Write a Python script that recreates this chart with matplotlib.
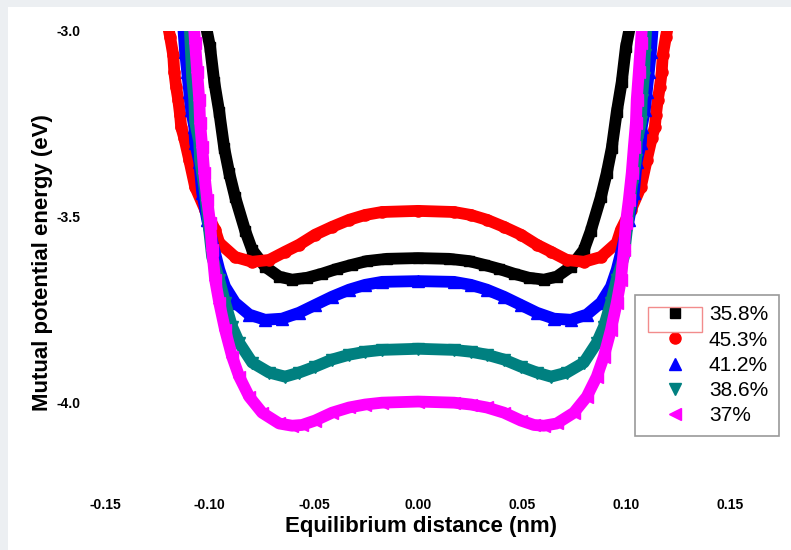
import matplotlib
matplotlib.use("Agg")
import matplotlib.pyplot as plt
from matplotlib.patches import Rectangle
import numpy as np

plt.rcParams['font.family'] = ['Liberation Sans', 'DejaVu Sans']
plt.rcParams['axes.unicode_minus'] = False

labels = ['35.8%', '45.3%', '41.2%', '38.6%', '37%']
colors = ['#000000', '#ff0000', '#0000ff', '#008080', '#ff00ff']
markers = ['s', 'o', '^', 'v', '<']

x_358 = [-0.1025, -0.0999, -0.0979, -0.0955, -0.0931, -0.0907, -0.0879, -0.0830, -0.0797,
         -0.0735, -0.0667, -0.0605, -0.0533, -0.0461, -0.0389, -0.0317, -0.0245, -0.0149, 0.0]
y_358 = [-2.970, -3.043, -3.137, -3.218, -3.315, -3.382, -3.446, -3.538, -3.589,
         -3.634, -3.661, -3.669, -3.664, -3.653, -3.640, -3.629, -3.619, -3.613, -3.611]

x_453 = [-0.1205, -0.1191, -0.1176, -0.1171, -0.1162, -0.1152, -0.1143, -0.1138, -0.1123,
         -0.1099, -0.1071, -0.1023, -0.0975, -0.0955, -0.0879, -0.0797, -0.0715, -0.0639,
         -0.0571, -0.0494, -0.0413, -0.0331, -0.0254, -0.0173, 0.0]
y_453 = [-2.975, -3.016, -3.065, -3.110, -3.151, -3.185, -3.226, -3.258, -3.288,
         -3.347, -3.419, -3.481, -3.535, -3.570, -3.608, -3.621, -3.616, -3.594,
         -3.575, -3.548, -3.527, -3.508, -3.495, -3.487, -3.484]

x_412 = [-0.1130, -0.1119, -0.1109, -0.1099, -0.1090, -0.1075, -0.1071, -0.1051, -0.1037,
         -0.1013, -0.0979, -0.0955, -0.0927, -0.0879, -0.0811, -0.0735, -0.0653, -0.0571,
         -0.0494, -0.0413, -0.0331, -0.0254, -0.0173, 0.0]
y_412 = [-2.975, -3.056, -3.110, -3.164, -3.212, -3.258, -3.301, -3.352, -3.435,
         -3.508, -3.589, -3.642, -3.688, -3.731, -3.763, -3.777, -3.774, -3.758,
         -3.737, -3.715, -3.696, -3.683, -3.675, -3.673]

x_386 = [-0.1098, -0.1090, -0.1085, -0.1075, -0.1071, -0.1051, -0.1047, -0.1027, -0.1013,
         -0.0989, -0.0955, -0.0927, -0.0893, -0.0859, -0.0797, -0.0715, -0.0639, -0.0571,
         -0.0494, -0.0413, -0.0331, -0.0254, -0.0173, 0.0]
y_386 = [-2.975, -3.065, -3.126, -3.185, -3.245, -3.298, -3.347, -3.419, -3.489,
         -3.608, -3.669, -3.731, -3.796, -3.839, -3.892, -3.919, -3.930, -3.919,
         -3.903, -3.884, -3.871, -3.863, -3.858, -3.855]

x_370 = [-0.1078, -0.1071, -0.1061, -0.1051, -0.1047, -0.1037, -0.1027, -0.1013, -0.0999,
         -0.0989, -0.0975, -0.0955, -0.0927, -0.0893, -0.0859, -0.0811, -0.0749, -0.0667,
         -0.0605, -0.0557, -0.0494, -0.0413, -0.0331, -0.0254, -0.0173, 0.0]
y_370 = [-2.975, -3.032, -3.110, -3.185, -3.247, -3.312, -3.382, -3.454, -3.516,
         -3.589, -3.669, -3.731, -3.804, -3.876, -3.930, -3.984, -4.027, -4.056,
         -4.062, -4.060, -4.048, -4.027, -4.013, -4.005, -4.000, -3.997]

xticks = [-0.15, -0.10, -0.05, 0.00, 0.05, 0.10, 0.15]
yticks = [-3.0, -3.5, -4.0]


def mirror(x, y):
    # right half is the mirror image of the left half
    x = np.array(x)
    y = np.array(y)
    return np.concatenate([x, -x[-2::-1]]), np.concatenate([y, y[-2::-1]])


series = [(x_358, y_358), (x_453, y_453), (x_412, y_412), (x_386, y_386), (x_370, y_370)]

fig = plt.figure(figsize=(7.91, 5.50), dpi=100, facecolor='#eceff2')
fig.add_artist(Rectangle((8 / 791, 0), 1, 1 - 7 / 550, transform=fig.transFigure,
                         facecolor='white', edgecolor='none', zorder=-5))

ax = fig.add_axes([85 / 791, 1 - 477 / 550, 666 / 791, 446 / 550])
ax.set_facecolor('white')

sizes = [7, 8, 8, 8, 8]
for (xs, ys), c, m, lab, ms in zip(series, colors, markers, labels, sizes):
    xx, yy = mirror(xs, ys)
    ax.plot(xx, yy, '-', color=c, lw=8.5, solid_capstyle='butt')
    ax.plot(xx, yy, linestyle='none', marker=m, color=c, ms=ms, mec=c, label=lab)

ax.set_xlim(-0.16, 0.16)
ax.set_ylim(-4.2, -3.0)
ax.set_xticks(xticks)
ax.set_xticklabels(['%.2f' % v for v in xticks])
ax.set_yticks(yticks)
ax.set_yticklabels(['%.1f' % v for v in yticks])
for s in ax.spines.values():
    s.set_visible(False)
ax.tick_params(axis='x', length=0, pad=15, labelsize=10)
ax.tick_params(axis='y', length=0, pad=3, labelsize=10)
for t in ax.get_xticklabels() + ax.get_yticklabels():
    t.set_fontweight('bold')

ax.set_xlabel('Equilibrium distance (nm)', fontsize=16, fontweight='bold')
ax.xaxis.set_label_coords(0.5045, -0.087)
ax.set_ylabel('Mutual potential energy (eV)', fontsize=16, fontweight='bold')
ax.yaxis.set_label_coords(-0.048, 0.48)

leg = ax.legend(loc='upper left', bbox_to_anchor=(635 / 791, 1 - 295 / 550),
                bbox_transform=fig.transFigure, fontsize=15, frameon=True,
                fancybox=False, numpoints=1, borderpad=0.5, handlelength=2.8,
                handletextpad=0.25, labelspacing=0.3, borderaxespad=0)
leg.get_frame().set_edgecolor('#808080')
leg.get_frame().set_linewidth(1.2)

# the little red box around the first legend symbol
fig.add_artist(Rectangle((648 / 791, 1 - 332 / 550), 54 / 791, 25 / 550,
                         transform=fig.transFigure, facecolor='none',
                         edgecolor='#f28c8c', lw=1, zorder=10))

fig.savefig('out.png', dpi=100, facecolor=fig.get_facecolor())
